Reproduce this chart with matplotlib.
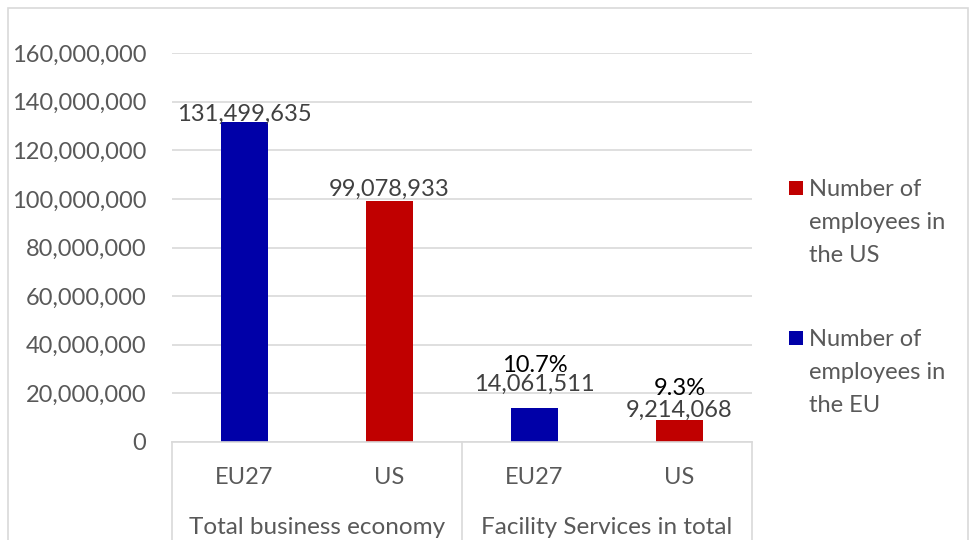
import matplotlib
matplotlib.use("Agg")
import matplotlib.pyplot as plt
from matplotlib.patches import Rectangle
from matplotlib.lines import Line2D

plt.rcParams['font.family'] = ['Lato', 'DejaVu Sans']

groups = ["Total business economy", "Facility Services in total"]
regions = ["EU27", "US", "EU27", "US"]
values = [131499635, 99078933, 14061511, 9214068]
value_labels = ["131,499,635", "99,078,933", "14,061,511", "9,214,068"]
share_labels = ["", "", "10.7%", "9.3%"]
series_names = ["Number of\nemployees in\nthe US", "Number of\nemployees in\nthe EU"]
yticks = [0, 20000000, 40000000, 60000000, 80000000, 100000000, 120000000, 140000000, 160000000]

# label placement (pixels above bar top, baseline)
value_offsets = [1, 5, 17, 3]
share_offsets = [0, 0, 36, 25]

BLUE = "#0000A8"
RED = "#C00000"
GREY = "#595959"
GRID = "#D9D9D9"
colors = [BLUE, RED, BLUE, RED]
FS = 17

W, H = 970, 540
fig = plt.figure(figsize=(W / 100, H / 100), dpi=100)

# outer chart border
fig.add_artist(Rectangle((8 / W, -0.01), (968 - 8) / W, (H - 8) / H + 0.01,
                         transform=fig.transFigure, fill=False,
                         edgecolor=GRID, linewidth=1.2))

x0, x1 = 172, 752
y0, y1 = 442, 53
ax = fig.add_axes([x0 / W, (H - y0) / H, (x1 - x0) / W, (y0 - y1) / H])

xs = list(range(len(values)))
ax.bar(xs, values, width=0.32, color=colors, zorder=3)
ax.set_xlim(-0.5, len(values) - 0.5)
ax.set_ylim(0, 160000000)
ax.set_yticks(yticks)
ax.set_yticklabels([f"{v:,}" for v in yticks])
ax.tick_params(axis='y', length=0, pad=18.5, labelsize=FS, labelcolor=GREY)
ax.set_xticks([])
ax.grid(axis='y', color=GRID, linewidth=1.2, zorder=0)
for s in ax.spines.values():
    s.set_visible(False)

# category axis
ax.add_line(Line2D([0, 1], [0, 0], transform=ax.transAxes, color=GRID,
                   linewidth=1.2, clip_on=False, zorder=4))
for xa in [0, 0.5, 1]:
    ax.add_line(Line2D([xa, xa], [0, -0.35], transform=ax.transAxes,
                       color=GRID, linewidth=1.2, clip_on=False))

trans = ax.get_xaxis_transform()
for x, r in zip(xs, regions):
    ax.text(x, -36 / (y0 - y1), r, transform=trans, ha='center', va='center',
            fontsize=FS, color=GREY)
for i, g in enumerate(groups):
    ax.text(0.5 + 2 * i, -86 / (y0 - y1), g, transform=trans, ha='center',
            va='center', fontsize=17.5, color=GREY)

# data labels
for x, v, lab, sh, vo, so in zip(xs, values, value_labels, share_labels,
                                 value_offsets, share_offsets):
    ax.annotate(lab, (x, v), xytext=(0, vo), textcoords='offset pixels',
                ha='center', va='baseline', fontsize=FS, color="#404040")
    if sh:
        ax.annotate(sh, (x, v), xytext=(0, so), textcoords='offset pixels',
                    ha='center', va='baseline', fontsize=FS, color="black")

# legend
for name, col, sq_top, txt_top in zip(series_names, [RED, BLUE], [181, 331], [179, 329]):
    fig.add_artist(Rectangle((789 / W, (H - sq_top - 14) / H), 14 / W, 14 / H,
                             transform=fig.transFigure, facecolor=col, edgecolor='none'))
    fig.text(809 / W, (H - txt_top) / H, name, ha='left', va='top', fontsize=FS,
             color=GREY, linespacing=1.7)

fig.savefig("out.png", dpi=100)
